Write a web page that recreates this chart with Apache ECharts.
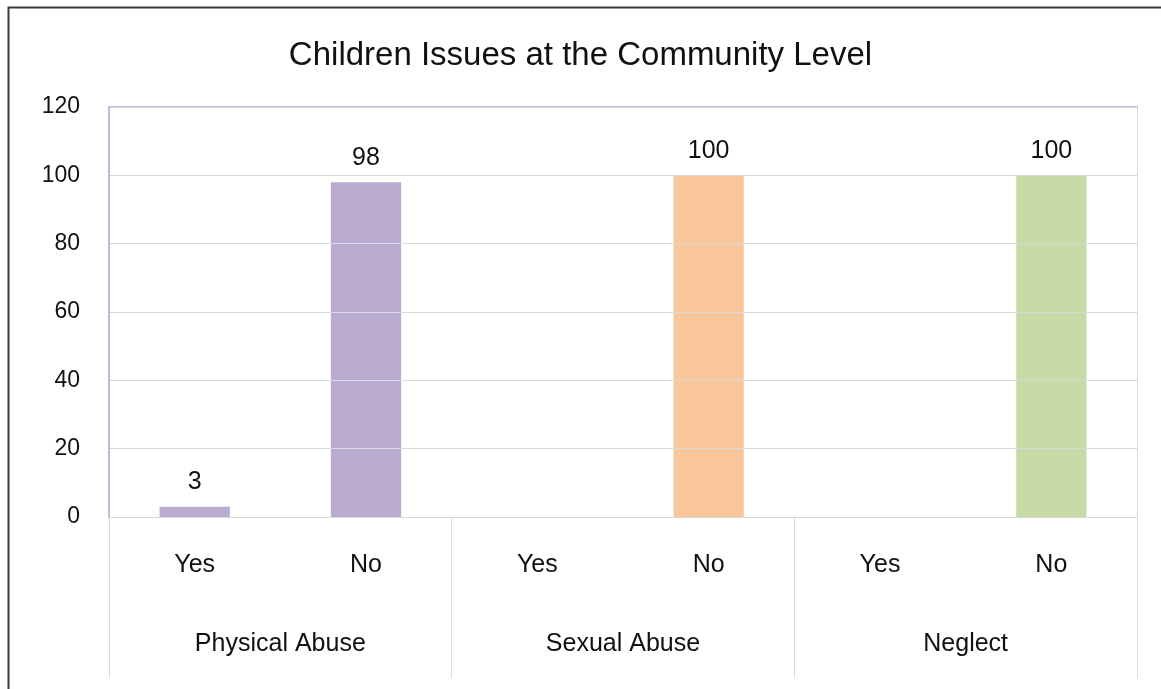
<!DOCTYPE html>
<html>
<head>
<meta charset="utf-8">
<script src="https://cdn.jsdelivr.net/npm/echarts@6/dist/echarts.min.js"></script>
<style>
html,body{margin:0;padding:0;background:#fff;}
#chart{width:1161px;height:689px;}
</style>
</head>
<body>
<div id="chart"></div>
<script>
const title = "Children Issues at the Community Level";
const groups = ["Physical Abuse", "Sexual Abuse", "Neglect"];
const answers = ["Yes", "No"];
const physicalAbuse = [3, 98];
const sexualAbuse = [null, 100];
const neglect = [null, 100];
const yTicks = [0, 20, 40, 60, 80, 100, 120];
const groupColors = ["#b9aacf", "#f9c69c", "#c8dba6"];

const FONT = "'Liberation Sans', Arial, sans-serif";
const groupValues = [physicalAbuse, sexualAbuse, neglect];
const cats = [];
const seriesData = [];
groups.forEach((g, gi) => {
  answers.forEach((a, ai) => {
    cats.push(a);
    seriesData.push({ value: groupValues[gi][ai], itemStyle: { color: groupColors[gi] } });
  });
});

const chart = echarts.init(document.getElementById('chart'), null, { renderer: 'canvas' });
chart.setOption({
  animation: false,
  backgroundColor: '#ffffff',
  graphic: [{
    type: 'rect', left: 6, top: 5, z: 100,
    shape: { x: 0, y: 0, width: 1200, height: 720 },
    style: { fill: 'none', stroke: '#3a3a3a', lineWidth: 2 },
    silent: true
  }],
  title: {
    text: title, left: 'center', top: 34,
    textStyle: { fontFamily: FONT, fontSize: 33, fontWeight: 'normal', color: '#111' }
  },
  grid: {
    left: 109, right: 24, top: 107, bottom: 172, containLabel: false
  },
  xAxis: [{
    type: 'category', data: cats, position: 'bottom', z: 5,
    axisLine: { show: true, lineStyle: { color: '#d9d9d9', width: 1 } },
    axisTick: { show: false },
    axisLabel: { margin: 36, fontFamily: FONT, fontSize: 25, color: '#111' }
  }, {
    type: 'category', data: groups, position: 'bottom',
    axisLine: { show: false },
    axisTick: { show: true, length: 161, lineStyle: { color: '#dcdcdc', width: 1 } },
    axisLabel: { margin: 115, fontFamily: FONT, fontSize: 25, color: '#111' }
  }, {
    type: 'category', data: cats, position: 'top', z: 5,
    axisLine: { show: true, lineStyle: { color: '#b8a8d2', width: 1.5 } },
    axisTick: { show: false }, axisLabel: { show: false }, splitLine: { show: false }
  }],
  yAxis: [{
    type: 'value', min: yTicks[0], max: yTicks[yTicks.length - 1], interval: 20, z: 6,
    axisLine: { show: true, lineStyle: { color: '#b3a2c7', width: 1.5 } },
    axisTick: { show: false },
    splitLine: { show: true, lineStyle: { color: '#d9d9d9', width: 1 } },
    axisLabel: { margin: 29, fontFamily: FONT, fontSize: 23, color: '#111' }
  }, {
    type: 'value', position: 'right', min: yTicks[0], max: yTicks[yTicks.length - 1], interval: 20, z: 5,
    axisLine: { show: true, lineStyle: { color: '#dcd6ea' } },
    axisTick: { show: false }, axisLabel: { show: false }, splitLine: { show: false }
  }],
  series: [{
    type: 'bar', xAxisIndex: 0, yAxisIndex: 0, data: seriesData, barWidth: '41%',
    label: { show: true, position: 'top', distance: 12, fontFamily: FONT, fontSize: 25, color: '#111' }
  }]
});
</script>
</body>
</html>
